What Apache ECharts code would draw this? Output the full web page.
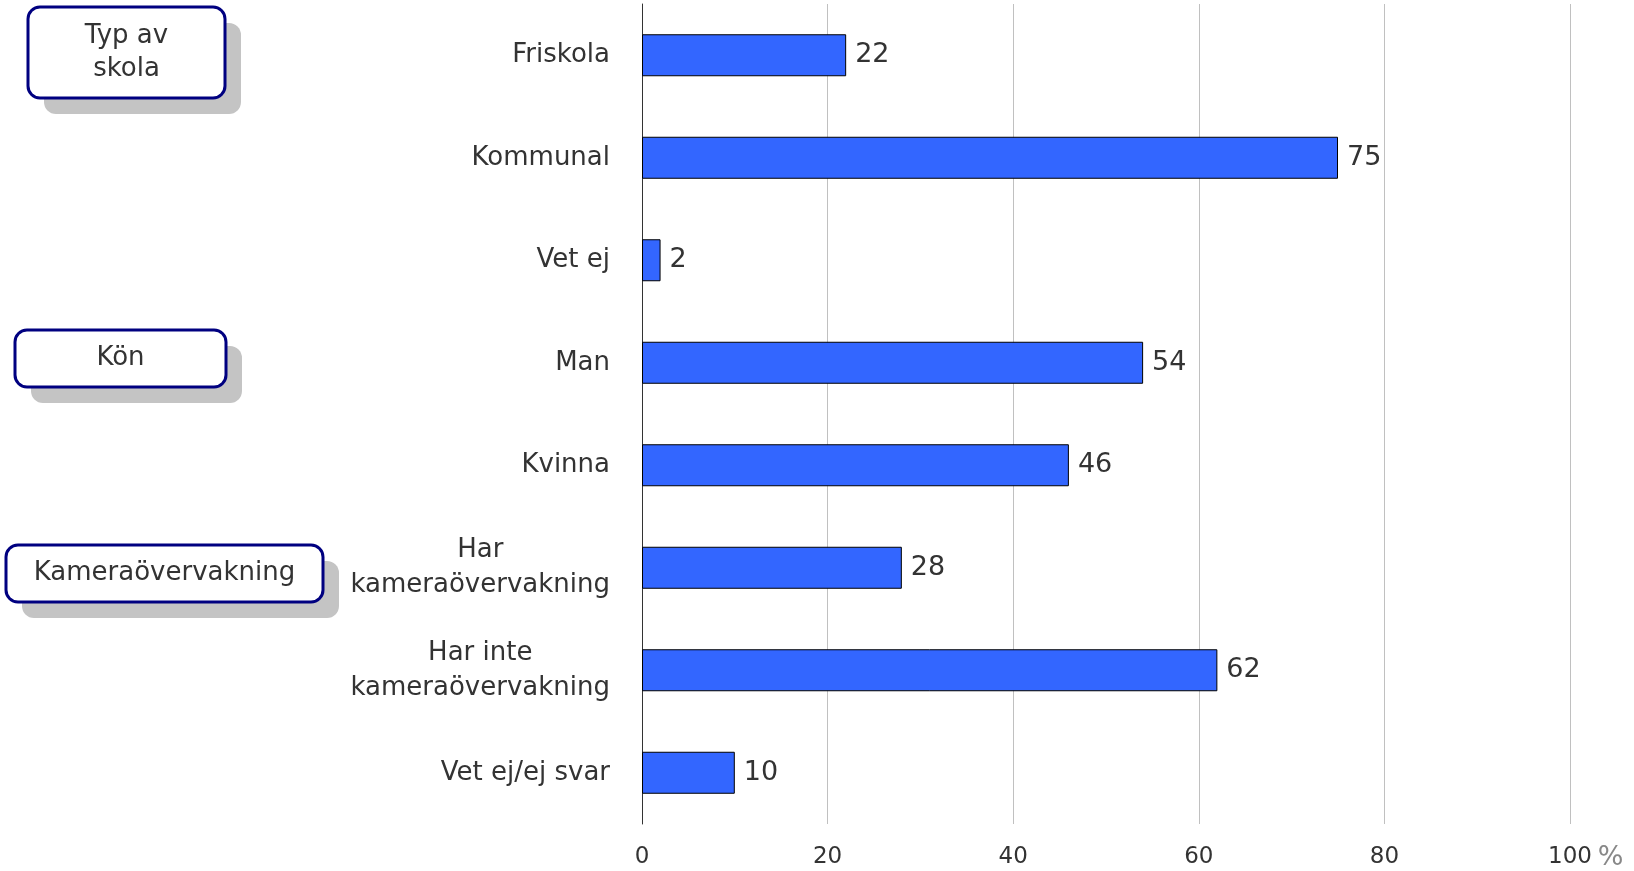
<!DOCTYPE html>
<html>
<head>
<meta charset="utf-8">
<script src="https://cdn.jsdelivr.net/npm/echarts@6/dist/echarts.min.js"></script>
<style>
  html, body { margin: 0; padding: 0; background: #fff; }
  #chart { width: 1634px; height: 871px; }
</style>
</head>
<body>
<div id="chart"></div>
<script>
    const categories = ['Friskola', 'Kommunal', 'Vet ej', 'Man', 'Kvinna',
        'Har\nkameraövervakning', 'Har inte\nkameraövervakning', 'Vet ej/ej svar'];
    const values = [22, 75, 2, 54, 46, 28, 62, 10];
    const xTicks = [0, 20, 40, 60, 80, 100];

    const font = 'DejaVu Sans, Verdana, sans-serif';
    const myChart = echarts.init(document.getElementById('chart'));

    // grupprubriker till vänster (ruta med skugga)
    function groupBox(x, y, w, h, text) {
        return [{
            type: 'rect',
            shape: {x: x + 16, y: y + 16, width: w, height: h, r: 12},
            style: {fill: '#c4c4c4'}
        }, {
            type: 'rect',
            shape: {x: x, y: y, width: w, height: h, r: 12},
            style: {fill: '#fff', stroke: '#000080', lineWidth: 3}
        }, {
            type: 'text',
            x: x + w / 2,
            y: y + h / 2,
            style: {text: text, font: '26px ' + font, fill: '#333', align: 'center',
                verticalAlign: 'middle', lineHeight: 33}
        }];
    }

    const option = {
        animation: false,
        grid: {left: 642, right: 64, top: 4, bottom: 46, containLabel: false},
        xAxis: {
            type: 'value',
            min: 0,
            max: 100,
            interval: 20,
            axisLine: {show: false},
            axisTick: {show: false},
            splitLine: {show: true, lineStyle: {color: '#c0c0c0', width: 1}},
            axisLabel: {margin: 22, fontSize: 23, color: '#333', fontFamily: font,
                formatter: function (v) { return xTicks.indexOf(v) >= 0 ? String(v) : ''; }},
            name: '{p|%}',
            nameLocation: 'end',
            nameGap: 27,
            nameTextStyle: {verticalAlign: 'top', align: 'left',
                rich: {p: {fontSize: 27, color: '#888', fontFamily: font, padding: [20, 0, 0, 0]}}}
        },
        yAxis: {
            type: 'category',
            inverse: true,
            data: categories,
            axisLine: {show: true, lineStyle: {color: '#333', width: 1}},
            axisTick: {show: false},
            axisLabel: {
                margin: 32,
                fontFamily: font,
                formatter: function (v) {
                    return v.split('\n').map(function (s) { return '{c|' + s + '}'; }).join('\n');
                },
                rich: {c: {fontSize: 26, color: '#333', fontFamily: font, align: 'center', lineHeight: 35}}
            }
        },
        series: [{
            type: 'bar',
            data: values,
            barWidth: 42,
            itemStyle: {color: '#3366ff', borderColor: '#000', borderWidth: 1},
            label: {show: true, position: 'right', distance: 9, fontSize: 27,
                color: '#333', fontFamily: font}
        }],
        graphic: [].concat(
            groupBox(28, 7, 197, 91, 'Typ av\nskola'),
            groupBox(15, 330, 211, 57, 'Kön'),
            groupBox(6, 545, 317, 57, 'Kameraövervakning')
        )
    };
    myChart.setOption(option);
</script>
</body>
</html>
